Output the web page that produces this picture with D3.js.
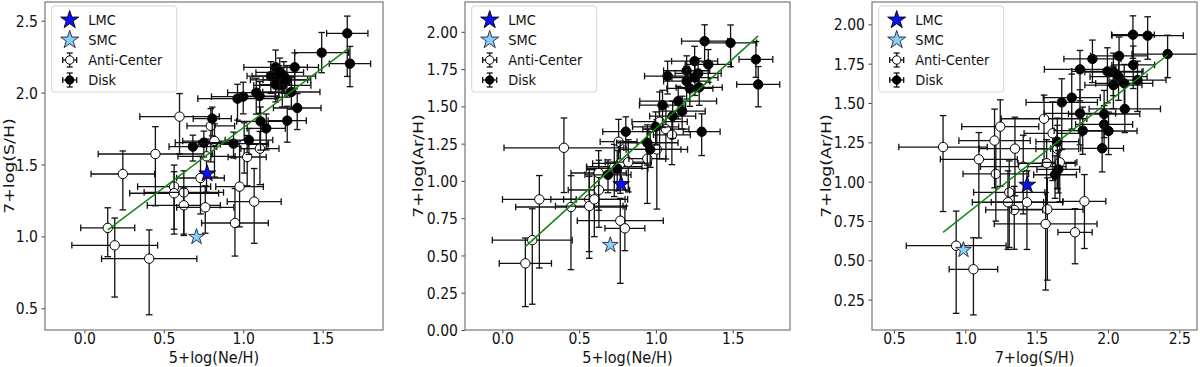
<!DOCTYPE html>
<html lang="en">
<head>
<meta charset="UTF-8">
<title>Abundance ratios</title>
<script src="https://d3js.org/d3.v7.min.js"></script>
<style>
  body { margin: 0; background: #fff; }
  svg { display: block; font-family: "DejaVu Sans", sans-serif; }
</style>
</head>
<body>
<svg id="chart" width="1200" height="367"></svg>
<script>
// each point: [x, y, xerr, yerrLow, yerrHigh]
const neS_anti = [
  [0.147,1.059,0.17,0.20,0.14],[0.191,0.938,0.27,0.36,0.19],[0.408,0.845,0.30,0.39,0.20],
  [0.242,1.434,0.20,0.25,0.16],[0.447,1.573,0.36,0.36,0.19],[0.599,1.833,0.25,0.26,0.16],
  [0.565,1.346,0.23,0.33,0.15],[0.565,1.300,0.28,0.25,0.15],[0.626,1.306,0.25,0.30,0.15],
  [0.626,1.216,0.23,0.20,0.12],[0.731,1.406,0.15,0.25,0.15],[0.769,1.557,0.18,0.25,0.12],
  [0.796,1.768,0.15,0.25,0.12],[0.819,1.663,0.20,0.25,0.12],[0.761,1.202,0.18,0.18,0.15],
  [0.948,1.093,0.21,0.23,0.24],[0.977,1.346,0.15,0.28,0.28],[1.006,1.640,0.15,0.20,0.15],
  [1.025,1.552,0.12,0.20,0.15],[1.105,1.610,0.12,0.25,0.12],[1.069,1.242,0.17,0.29,0.23]
];
const neS_disk = [
  [0.683,1.624,0.15,0.10,0.08],[0.752,1.652,0.18,0.10,0.08],[0.805,1.819,0.12,0.12,0.08],
  [0.939,1.645,0.22,0.10,0.08],[1.036,1.670,0.15,0.10,0.08],[1.109,1.800,0.15,0.20,0.10],
  [1.145,1.751,0.12,0.15,0.10],[0.964,1.958,0.25,0.15,0.10],[1.000,1.972,0.20,0.12,0.10],
  [1.082,2.000,0.18,0.15,0.10],[1.103,1.976,0.12,0.12,0.10],[1.174,2.115,0.15,0.12,0.10],
  [1.204,2.176,0.20,0.12,0.12],[1.225,2.088,0.18,0.12,0.10],[1.246,2.050,0.18,0.15,0.10],
  [1.256,2.115,0.20,0.12,0.10],[1.275,2.088,0.15,0.12,0.10],[1.303,2.004,0.18,0.12,0.10],
  [1.324,2.176,0.15,0.15,0.10],[1.277,1.805,0.12,0.15,0.10],[1.340,1.893,0.15,0.15,0.10],
  [1.494,2.278,0.17,0.14,0.14],[1.655,2.412,0.13,0.30,0.12],[1.672,2.201,0.13,0.16,0.12],
  [1.204,2.055,0.10,0.12,0.10],[1.230,2.140,0.15,0.12,0.10]
];
const neS_lmc = [0.773, 1.436];
const neS_smc = [0.706, 0.996];
const neS_fit = [[0.147, 1.045], [1.664, 2.308]];

const neAr_anti = [
  [0.150,0.447,0.17,0.29,0.17],[0.195,0.603,0.26,0.43,0.21],[0.241,0.876,0.24,0.46,0.16],
  [0.401,1.222,0.39,0.30,0.20],[0.447,0.825,0.36,0.42,0.21],[0.566,0.876,0.25,0.35,0.20],
  [0.566,0.831,0.22,0.35,0.20],[0.599,0.876,0.20,0.25,0.20],[0.629,0.939,0.20,0.25,0.20],
  [0.627,1.053,0.18,0.25,0.15],[0.729,1.095,0.18,0.20,0.15],[0.757,1.263,0.12,0.20,0.15],
  [0.768,1.117,0.18,0.20,0.15],[0.820,1.126,0.15,0.20,0.15],[0.768,0.733,0.28,0.42,0.15],
  [0.798,0.682,0.13,0.15,0.15],[0.944,1.149,0.12,0.30,0.20],[1.006,1.211,0.20,0.40,0.20],
  [1.024,1.397,0.18,0.25,0.20],[1.065,1.347,0.15,0.20,0.15],[1.104,1.309,0.12,0.20,0.12]
];
const neAr_disk = [
  [0.688,1.041,0.15,0.12,0.10],[0.748,1.084,0.20,0.15,0.12],[0.804,1.330,0.15,0.12,0.10],
  [0.944,1.256,0.20,0.15,0.12],[0.963,1.211,0.20,0.12,0.12],[0.998,1.363,0.15,0.12,0.10],
  [1.043,1.508,0.15,0.15,0.10],[1.109,1.435,0.15,0.15,0.10],[1.145,1.535,0.25,0.12,0.10],
  [1.171,1.468,0.15,0.12,0.10],[1.076,1.703,0.15,0.12,0.10],[1.200,1.739,0.15,0.12,0.10],
  [1.200,1.669,0.15,0.12,0.10],[1.221,1.620,0.15,0.12,0.10],[1.252,1.803,0.15,0.12,0.10],
  [1.254,1.693,0.15,0.12,0.10],[1.275,1.721,0.15,0.12,0.10],[1.282,1.627,0.15,0.12,0.10],
  [1.341,1.781,0.15,0.12,0.10],[1.317,1.937,0.15,0.14,0.11],[1.298,1.330,0.12,0.16,0.12],
  [1.486,1.926,0.17,0.16,0.12],[1.651,1.815,0.11,0.12,0.12],[1.666,1.647,0.14,0.15,0.12]
];
const neAr_lmc = [0.774, 0.977];
const neAr_smc = [0.703, 0.570];
const neAr_fit = [[0.150, 0.559], [1.666, 1.973]];

const sAr_anti = [
  [0.844,1.220,0.31,0.41,0.20],[0.936,0.593,0.35,0.43,0.22],[1.057,0.443,0.17,0.29,0.20],
  [1.095,1.142,0.27,0.50,0.17],[1.214,1.049,0.23,0.30,0.20],[1.205,1.261,0.25,0.30,0.20],
  [1.245,1.350,0.27,0.38,0.17],[1.308,0.932,0.25,0.35,0.20],[1.299,0.869,0.25,0.30,0.20],
  [1.343,0.820,0.20,0.25,0.15],[1.348,1.210,0.25,0.30,0.20],[1.406,1.095,0.30,0.30,0.20],
  [1.432,0.869,0.25,0.30,0.20],[1.552,1.400,0.30,0.30,0.15],[1.570,1.117,0.20,0.30,0.15],
  [1.612,1.307,0.20,0.30,0.20],[1.575,0.824,0.25,0.45,0.20],[1.563,0.731,0.36,0.42,0.20],
  [1.645,1.208,0.15,0.25,0.15],[1.662,1.123,0.12,0.25,0.15],[1.769,0.678,0.12,0.20,0.15],
  [1.835,0.875,0.15,0.30,0.17]
];
const sAr_disk = [
  [1.629,1.044,0.15,0.15,0.12],[1.652,1.078,0.15,0.15,0.12],[1.645,1.254,0.15,0.30,0.15],
  [1.676,1.504,0.25,0.30,0.15],[1.746,1.534,0.20,0.20,0.15],[1.804,1.434,0.25,0.20,0.15],
  [1.823,1.324,0.20,0.15,0.15],[1.804,1.714,0.25,0.20,0.12],[1.891,1.780,0.20,0.15,0.12],
  [1.959,1.212,0.15,0.15,0.15],[1.973,1.364,0.20,0.15,0.12],[1.973,1.430,0.25,0.15,0.15],
  [2.004,1.322,0.20,0.15,0.12],[1.996,1.701,0.25,0.20,0.15],[2.038,1.697,0.20,0.15,0.12],
  [2.038,1.614,0.20,0.15,0.12],[2.078,1.799,0.20,0.15,0.12],[2.074,1.667,0.20,0.15,0.12],
  [2.114,1.625,0.20,0.15,0.12],[2.118,1.462,0.25,0.15,0.15],[2.177,1.742,0.15,0.15,0.12],
  [2.207,1.646,0.20,0.20,0.12],[2.175,1.934,0.15,0.15,0.12],[2.278,1.928,0.25,0.15,0.12],
  [2.418,1.811,0.25,0.15,0.12]
];
const sAr_lmc = [1.434, 0.979];
const sAr_smc = [0.987, 0.566];
const sAr_fit = [[0.844, 0.678], [2.418, 1.805]];

const neTicks = [0, 0.5, 1.0, 1.5];
const sTicks = [0.5, 1.0, 1.5, 2.0, 2.5];
const arTicks2 = [0, 0.25, 0.5, 0.75, 1.0, 1.25, 1.5, 1.75, 2.0];
const arTicks3 = [0.25, 0.5, 0.75, 1.0, 1.25, 1.5, 1.75, 2.0];
const legendLabels = ["LMC", "SMC", "Anti-Center", "Disk"];

// the source image is stretched vertically, so text glyphs are taller than wide
const SY = 1.1;
const SY_YLABEL = 1.2;

const panels = [
  { box: [45, 383, 2, 330], xDom: [-0.248, 1.88], yDom: [0.349, 2.63],
    xTicks: neTicks, yTicks: sTicks, xFmt: ".1f", yFmt: ".1f",
    xLabel: "5+log(Ne/H)", yLabel: "7+log(S/H)", yLabelX: 9,
    anti: neS_anti, disk: neS_disk, lmc: neS_lmc, smc: neS_smc, fit: neS_fit },
  { box: [465, 790, 2, 330], xDom: [-0.243, 1.873], yDom: [0, 2.2],
    xTicks: neTicks, yTicks: arTicks2, xFmt: ".1f", yFmt: ".2f",
    xLabel: "5+log(Ne/H)", yLabel: "7+log(Ar/H)", yLabelX: 418,
    anti: neAr_anti, disk: neAr_disk, lmc: neAr_lmc, smc: neAr_smc, fit: neAr_fit },
  { box: [872, 1197, 2, 330], xDom: [0.346, 2.624], yDom: [0.057, 2.142],
    xTicks: sTicks, yTicks: arTicks3, xFmt: ".1f", yFmt: ".2f",
    xLabel: "7+log(S/H)", yLabel: "7+log(Ar/H)", yLabelX: 826,
    anti: sAr_anti, disk: sAr_disk, lmc: sAr_lmc, smc: sAr_smc, fit: sAr_fit }
];

const svg = d3.select("#chart");

function starPath(R) {
  const r = R * 0.382;
  const pts = d3.range(10).map(i => {
    const a = -Math.PI / 2 + i * Math.PI / 5;
    const rr = i % 2 === 0 ? R : r;
    return [rr * Math.cos(a), rr * Math.sin(a)];
  });
  return "M" + pts.map(p => p.join(",")).join("L") + "Z";
}

function errorBars(g, data, x, y, fill) {
  const cap = 3.3;
  const pt = g.selectAll(null).data(data).join("g");
  const line = (sel, x1, y1, x2, y2) => sel.append("line")
    .attr("x1", x1).attr("y1", y1).attr("x2", x2).attr("y2", y2)
    .attr("stroke", "#111").attr("stroke-width", 1.3);
  pt.each(function (d) {
    const s = d3.select(this);
    const cx = x(d[0]), cy = y(d[1]);
    const xl = x(d[0] - d[2]), xr = x(d[0] + d[2]);
    const yb = y(d[1] - d[3]), yt = y(d[1] + d[4]);
    line(s, xl, cy, xr, cy);
    line(s, xl, cy - cap, xl, cy + cap);
    line(s, xr, cy - cap, xr, cy + cap);
    line(s, cx, yb, cx, yt);
    line(s, cx - cap, yb, cx + cap, yb);
    line(s, cx - cap, yt, cx + cap, yt);
  });
  pt.append("circle")
    .attr("cx", d => x(d[0])).attr("cy", d => y(d[1]))
    .attr("r", 4.7).attr("fill", fill)
    .attr("stroke", "#000").attr("stroke-width", 1);
}

function label(g, x, y, txt, size, anchor) {
  g.append("text")
    .attr("transform", `translate(${x},${y}) scale(1,${SY})`)
    .attr("text-anchor", anchor).attr("font-size", size).attr("fill", "#111")
    .text(txt);
}

panels.forEach((p, i) => {
  const [L, R, T, B] = p.box;
  const x = d3.scaleLinear().domain(p.xDom).range([L, R]);
  const y = d3.scaleLinear().domain(p.yDom).range([B, T]);
  const g = svg.append("g");

  const clipId = "clip" + i;
  g.append("clipPath").attr("id", clipId)
    .append("rect").attr("x", L).attr("y", T).attr("width", R - L).attr("height", B - T);

  const plot = g.append("g").attr("clip-path", `url(#${clipId})`);
  errorBars(plot, p.anti, x, y, "#fff");
  errorBars(plot, p.disk, x, y, "#000");

  plot.append("path")
    .attr("d", d3.line().x(d => x(d[0])).y(d => y(d[1]))(p.fit))
    .attr("fill", "none").attr("stroke", "#118811").attr("stroke-width", 1.5);

  plot.append("path").attr("d", starPath(8.8))
    .attr("transform", `translate(${x(p.lmc[0])},${y(p.lmc[1])})`)
    .attr("fill", "#0a14f0").attr("stroke", "#000").attr("stroke-width", 0.9);
  plot.append("path").attr("d", starPath(8.3))
    .attr("transform", `translate(${x(p.smc[0])},${y(p.smc[1])})`)
    .attr("fill", "#87cefa").attr("stroke", "#223").attr("stroke-width", 0.9);

  // axes
  const xAxis = g.append("g").attr("transform", `translate(0,${B})`)
    .call(d3.axisBottom(x).tickValues(p.xTicks).tickFormat(d3.format(p.xFmt))
      .tickSize(3.5).tickPadding(4));
  const yAxis = g.append("g").attr("transform", `translate(${L},0)`)
    .call(d3.axisLeft(y).tickValues(p.yTicks).tickFormat(d3.format(p.yFmt))
      .tickSize(3.5).tickPadding(3.5));
  [xAxis, yAxis].forEach(a => {
    a.select(".domain").remove();
    a.selectAll("line").attr("stroke", "#444");
    a.selectAll("text").attr("font-size", 14).attr("fill", "#111")
      .attr("font-family", "DejaVu Sans, sans-serif")
      .attr("transform", `scale(1,${SY})`);
  });
  xAxis.selectAll("text").attr("y", 13.5 / SY).attr("dy", 0);
  yAxis.selectAll("text").attr("dy", "0.36em");

  g.append("rect").attr("x", L).attr("y", T).attr("width", R - L).attr("height", B - T)
    .attr("fill", "none").attr("stroke", "#777").attr("stroke-width", 1.2);

  label(g, (L + R) / 2, 362.5, p.xLabel, 14.5, "middle");
  g.append("text")
    .attr("transform", `translate(${p.yLabelX},${(T + B) / 2}) rotate(-90) scale(${SY_YLABEL},1)`)
    .attr("text-anchor", "middle").attr("dominant-baseline", "central")
    .attr("font-size", 14.5).attr("fill", "#111")
    .text(p.yLabel);

  // legend
  const lg = g.append("g").attr("transform", `translate(${L + 6.7},${T + 4})`);
  lg.append("rect").attr("width", 125).attr("height", 86).attr("rx", 3)
    .attr("fill", "#fff").attr("fill-opacity", 0.85)
    .attr("stroke", "#d6d6d6").attr("stroke-width", 1);
  legendLabels.forEach((lab, k) => {
    const cy = 14 + k * 20, cx = 18;
    if (k < 2) {
      lg.append("path").attr("d", starPath(9.5))
        .attr("transform", `translate(${cx},${cy})`)
        .attr("fill", k === 0 ? "#0a14f0" : "#87cefa")
        .attr("stroke", k === 0 ? "#000" : "#223").attr("stroke-width", 0.9);
    } else {
      const m = lg.append("g").attr("stroke", "#111").attr("stroke-width", 1.3);
      m.append("line").attr("x1", cx - 7).attr("x2", cx + 7).attr("y1", cy).attr("y2", cy);
      m.append("line").attr("x1", cx - 7).attr("x2", cx - 7).attr("y1", cy - 3).attr("y2", cy + 3);
      m.append("line").attr("x1", cx + 7).attr("x2", cx + 7).attr("y1", cy - 3).attr("y2", cy + 3);
      m.append("line").attr("x1", cx).attr("x2", cx).attr("y1", cy - 7).attr("y2", cy + 7);
      m.append("line").attr("x1", cx - 3).attr("x2", cx + 3).attr("y1", cy - 7).attr("y2", cy - 7);
      m.append("line").attr("x1", cx - 3).attr("x2", cx + 3).attr("y1", cy + 7).attr("y2", cy + 7);
      m.append("circle").attr("cx", cx).attr("cy", cy).attr("r", 4.2)
        .attr("fill", k === 2 ? "#fff" : "#000").attr("stroke", "#000").attr("stroke-width", 1);
    }
    label(lg, 36.5, cy + 5.2, lab, 13, "start");
  });
});
</script>
</body>
</html>
